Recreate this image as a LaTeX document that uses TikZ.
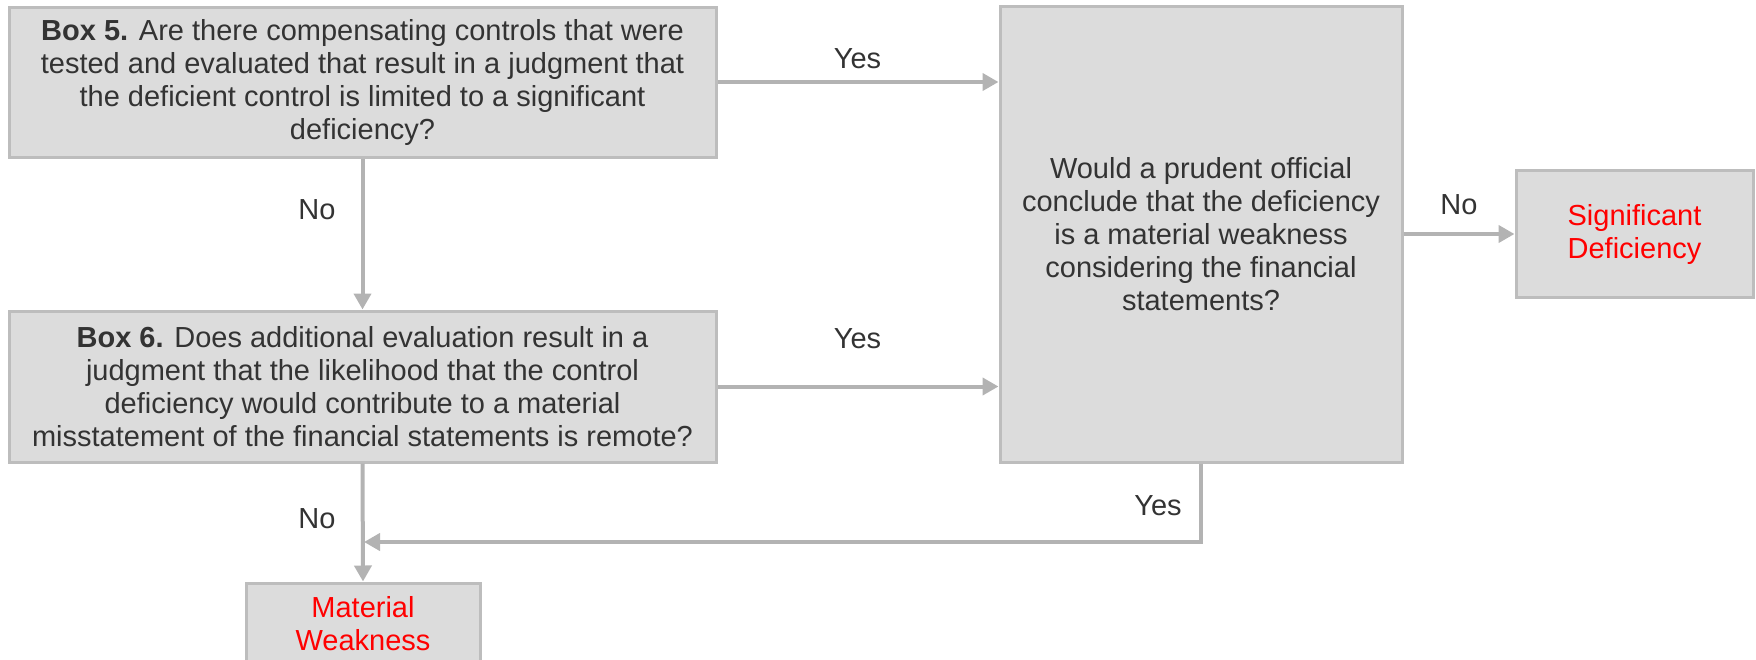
\documentclass[tikz,border=0pt]{standalone}
\usepackage{fontspec}
\setmainfont{Liberation Sans}
\usetikzlibrary{arrows.meta}
\definecolor{boxfill}{HTML}{DCDCDC}
\definecolor{boxline}{HTML}{BDBDBD}
\definecolor{flowline}{HTML}{B3B3B3}
\definecolor{ink}{HTML}{333333}
\definecolor{alert}{HTML}{FF0000}
\begin{document}
\begin{tikzpicture}[x=1pt,y=-1pt,
  every node/.style={font=\fontsize{29}{33}\selectfont, text=ink, inner sep=0pt},
  box/.style={draw=boxline, fill=boxfill, line width=3pt, align=center},
  flow/.style={draw=flowline, line width=4pt, -{Triangle[length=16pt,width=17pt]}},
  lbl/.style={anchor=base}]
\useasboundingbox (0,0) rectangle (1756,659);

% decision and outcome boxes
\node[box, minimum width=707pt, minimum height=150pt] (b5) at (362.5,82)
  {\textbf{Box 5.} Are there compensating controls that were\\
   tested and evaluated that result in a judgment that\\
   the deficient control is limited to a significant\\
   deficiency?};
\node[box, minimum width=707pt, minimum height=151pt] (b6) at (362.5,386.5)
  {\textbf{Box 6.} Does additional evaluation result in a\\
   judgment that the likelihood that the control\\
   deficiency would contribute to a material\\
   misstatement of the financial statements is remote?};
\node[box, minimum width=402pt, minimum height=456pt] (pru) at (1201,234)
  {Would a prudent official\\
   conclude that the deficiency\\
   is a material weakness\\
   considering the financial\\
   statements?};
\node[box, minimum width=237pt, minimum height=127pt, text=alert] (sd) at (1634.5,234)
  {Significant\\Deficiency};
\node[box, minimum width=234pt, minimum height=81pt, text=alert] (mw) at (363,623.5)
  {Material\\Weakness};

% connectors
\draw[flow] (b5.east) -- (pru.west |- b5.east);
\draw[flow] (b6.east) -- (pru.west |- b6.east);
\draw[flow] (pru.east) -- (sd.west);
\draw[flow] (b5.south) -- (b6.north);
\draw[flow] (b6.south) -- (mw.north);
\coordinate (join) at (364,542);
\draw[flow] (pru.south) |- (join);

% branch labels
\node[lbl] (y1) at (857.5,68) {Yes};
\node[lbl] (y2) at (857.5,348) {Yes};
\node[lbl] (n1) at (317,219) {No};
\node[lbl] (n2) at (1459,214) {No};
\node[lbl] (n3) at (317,528) {No};
\node[lbl] (y3) at (1158,515) {Yes};
\end{tikzpicture}
\end{document}
